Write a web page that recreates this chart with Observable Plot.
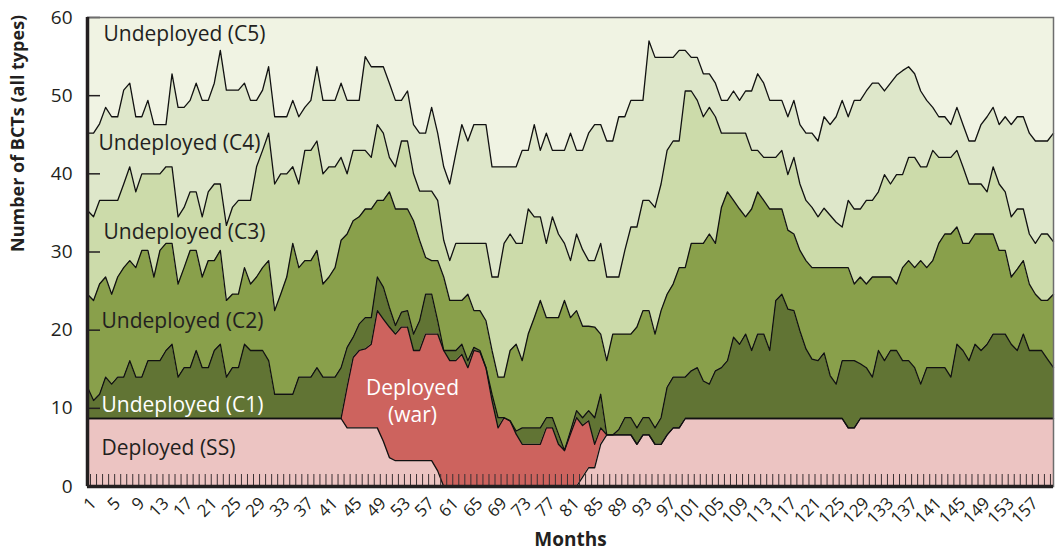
<!DOCTYPE html>
<html><head><meta charset="utf-8">
<script src="https://cdn.jsdelivr.net/npm/d3@7"></script>
<script src="https://cdn.jsdelivr.net/npm/@observablehq/plot@0.6"></script>
<style>body{margin:0;background:#fff;} #chart svg{display:block;}</style>
</head><body><div id="chart"></div>
<script>
// Upper edge of each stacked layer (number of BCTs, cumulative), months 1..161
const topSS = [
8.7,8.7,8.7,8.7,8.7,8.7,8.7,8.7,8.7,8.7,
8.7,8.7,8.7,8.7,8.7,8.7,8.7,8.7,8.7,8.7,
8.7,8.7,8.7,8.7,8.7,8.7,8.7,8.7,8.7,8.7,
8.7,8.7,8.7,8.7,8.7,8.7,8.7,8.7,8.7,8.7,
8.7,8.7,8.7,7.5,7.5,7.5,7.5,7.5,7.5,5.8,
3.7,3.3,3.3,3.3,3.3,3.3,3.3,3.3,2.0,0,
0,0,0,0,0,0,0,0,0,0,
0,0,0,0,0,0,0,0,0,0,
0,0,1.2,2.4,2.4,5.4,6.6,6.6,6.6,6.6,
6.6,5.4,6.6,6.6,5.4,5.4,6.6,7.5,7.5,8.7,
8.7,8.7,8.7,8.7,8.7,8.7,8.7,8.7,8.7,8.7,
8.7,8.7,8.7,8.7,8.7,8.7,8.7,8.7,8.7,8.7,
8.7,8.7,8.7,8.7,8.7,8.7,7.5,7.5,8.7,8.7,
8.7,8.7,8.7,8.7,8.7,8.7,8.7,8.7,8.7,8.7,
8.7,8.7,8.7,8.7,8.7,8.7,8.7,8.7,8.7,8.7,
8.7,8.7,8.7,8.7,8.7,8.7,8.7,8.7,8.7,8.7,
8.7];
const topWar = [
8.7,8.7,8.7,8.7,8.7,8.7,8.7,8.7,8.7,8.7,
8.7,8.7,8.7,8.7,8.7,8.7,8.7,8.7,8.7,8.7,
8.7,8.7,8.7,8.7,8.7,8.7,8.7,8.7,8.7,8.7,
8.7,8.7,8.7,8.7,8.7,8.7,8.7,8.7,8.7,8.7,
8.7,8.7,8.7,12.7,16.5,17.4,17.6,18.2,22.5,21.4,
20.4,19.5,20.4,20.4,17.4,17.4,19.5,19.5,19.5,17.4,
16.1,16.1,16.9,15.2,17.4,17.2,15.2,11.0,7.5,8.8,
8.4,6.7,5.4,5.4,5.4,5.4,7.5,7.5,5.4,4.6,
6.7,8.8,7.8,8.4,5.4,7.5,6.6,6.6,6.6,6.6,
6.6,5.4,6.6,6.6,5.4,5.4,6.6,7.5,7.5,8.7,
8.7,8.7,8.7,8.7,8.7,8.7,8.7,8.7,8.7,8.7,
8.7,8.7,8.7,8.7,8.7,8.7,8.7,8.7,8.7,8.7,
8.7,8.7,8.7,8.7,8.7,8.7,7.5,7.5,8.7,8.7,
8.7,8.7,8.7,8.7,8.7,8.7,8.7,8.7,8.7,8.7,
8.7,8.7,8.7,8.7,8.7,8.7,8.7,8.7,8.7,8.7,
8.7,8.7,8.7,8.7,8.7,8.7,8.7,8.7,8.7,8.7,
8.7];
const topC1 = [
12.7,11.0,11.8,14.0,13.1,14.0,14.0,16.1,14.0,14.0,
16.1,16.1,16.1,17.4,18.2,14.0,15.2,15.2,17.4,15.2,
15.2,17.4,18.2,14.0,15.2,15.2,18.2,17.4,17.4,17.4,
16.1,11.8,11.8,11.8,11.8,14.0,14.0,14.0,15.2,14.0,
14.0,14.0,15.2,17.8,19.1,20.8,21.6,21.6,26.8,25.5,
22.9,20.6,22.3,22.5,19.5,21.2,24.6,24.6,21.2,17.4,
17.4,17.4,18.2,16.1,17.8,17.4,15.2,11.8,8.8,8.8,
8.4,7.1,7.5,7.5,7.5,7.5,8.8,8.8,6.7,4.6,
7.1,9.7,8.8,9.7,8.8,11.8,6.6,6.6,7.3,8.8,
8.8,7.5,8.8,8.8,7.5,8.8,12.7,14.0,14.0,14.0,
14.8,15.2,13.5,13.1,14.8,15.2,16.1,19.1,18.2,19.5,
17.4,19.5,19.5,17.4,23.8,24.6,22.7,22.5,19.9,17.6,
16.3,16.1,17.1,14.2,13.1,16.1,16.1,16.1,15.7,15.2,
14.0,17.4,16.1,17.4,17.4,16.1,16.1,15.2,13.1,15.2,
15.2,15.2,15.2,14.0,18.2,17.4,16.1,18.2,17.4,18.2,
19.5,19.5,19.5,18.2,17.4,19.5,17.4,17.4,17.4,16.3,
15.2];
const topC2 = [
24.6,23.8,25.9,26.8,24.6,26.8,28.0,28.9,28.0,30.2,
30.2,26.8,30.2,31.1,31.1,25.9,28.0,30.2,30.2,26.8,
28.9,28.9,30.2,23.8,24.6,24.6,28.0,25.9,26.8,28.0,
28.9,22.5,24.6,26.8,31.1,28.0,28.9,28.9,30.2,25.9,
26.8,28.0,31.5,32.3,34.0,34.5,35.5,35.5,36.6,36.6,
37.7,35.5,35.5,35.5,34.0,31.5,29.3,28.9,28.9,26.8,
23.8,23.8,23.8,24.6,22.5,22.5,21.2,17.4,14.0,14.0,
17.4,18.2,16.1,19.5,21.6,23.8,21.6,21.6,21.6,23.8,
21.6,22.5,20.5,20.5,20.4,19.5,16.1,19.5,19.5,19.5,
19.5,20.4,22.5,22.5,19.5,22.5,24.6,25.9,28.0,28.0,
31.1,31.1,31.1,32.3,31.1,35.7,37.7,36.6,35.5,34.5,
35.5,37.7,36.6,35.5,35.5,35.5,32.8,32.3,30.2,28.9,
28.0,28.0,28.0,28.0,28.0,28.0,28.0,25.9,26.8,25.9,
26.8,26.8,26.8,26.8,25.9,28.0,28.9,28.0,28.9,28.0,
28.9,31.1,32.3,32.3,33.2,31.1,31.1,32.3,32.3,32.3,
32.3,30.2,30.2,26.8,27.8,28.9,25.9,24.6,23.8,23.8,
24.6];
const topC3 = [
35.3,34.5,36.6,36.6,36.6,36.6,38.7,40.9,37.7,40.0,
40.0,40.0,40.0,40.9,40.9,34.5,35.7,37.7,37.7,34.5,
37.7,38.7,38.7,33.4,35.7,36.6,36.6,36.6,40.9,43.0,
45.2,38.7,40.0,40.0,40.9,38.7,43.0,43.0,44.2,40.0,
40.9,40.9,42.1,40.0,43.0,43.0,43.0,42.1,46.3,45.2,
42.1,40.9,44.2,44.2,40.0,37.8,37.8,37.8,36.6,31.5,
28.9,31.1,31.1,31.1,31.1,31.1,31.1,26.8,26.8,31.1,
32.3,31.1,31.1,35.5,34.5,34.5,31.1,34.5,32.3,31.1,
28.9,32.3,30.3,28.9,28.9,31.1,26.8,26.8,26.8,30.2,
33.2,33.2,36.6,36.6,35.7,38.7,43.0,44.2,44.2,50.6,
50.6,49.4,47.3,48.5,47.3,45.2,45.2,45.2,45.2,45.2,
43.0,43.0,42.1,42.1,42.1,43.0,39.9,42.1,38.7,36.6,
35.7,34.5,35.6,34.7,33.8,33.2,36.6,35.5,35.5,36.6,
36.6,37.7,39.9,38.7,39.9,39.9,42.1,42.1,40.9,40.9,
43.0,42.1,42.1,42.1,43.0,40.9,38.7,38.7,38.7,37.7,
40.9,38.7,37.7,34.5,35.5,35.5,32.3,31.1,32.3,32.3,
31.3];
const topC4 = [
45.2,45.2,46.4,48.5,47.3,47.3,50.7,51.6,47.3,47.3,
49.4,46.3,46.3,46.3,52.8,48.5,48.5,49.4,51.6,49.4,
49.4,51.6,55.8,50.7,50.7,50.7,51.6,49.4,49.4,50.7,
53.7,47.3,47.3,47.3,49.4,47.3,48.5,49.4,53.7,49.4,
49.4,49.4,51.6,49.4,49.4,49.4,55.0,53.7,53.7,53.7,
51.6,49.4,49.4,50.6,46.3,45.2,45.2,48.5,45.2,40.9,
38.7,42.6,46.3,44.2,46.3,46.3,46.3,40.9,40.9,40.9,
40.9,40.9,43.0,43.0,46.3,43.0,45.2,43.0,43.0,43.0,
45.2,43.0,43.0,45.2,46.3,46.3,44.2,44.2,47.3,47.3,
49.4,49.4,49.4,57.0,54.9,54.9,54.9,54.9,55.8,55.8,
54.9,54.9,52.8,52.8,51.6,49.4,49.4,50.6,49.4,50.6,
50.6,52.8,51.6,49.4,49.4,49.4,47.3,49.4,46.3,45.2,
45.2,44.2,47.3,46.3,47.3,49.4,47.3,49.4,49.4,50.6,
51.6,51.6,50.6,51.6,52.6,53.2,53.7,52.8,50.6,49.4,
48.5,47.3,47.3,46.3,48.5,46.3,44.2,44.2,46.3,47.3,
48.5,46.3,47.3,46.3,47.3,47.3,45.2,44.2,44.2,44.2,
45.2];
const months = d3.range(1, 162);
const monthTickLabels = d3.range(1, 158, 4);
const yTicks = [0, 10, 20, 30, 40, 50, 60];

const colors = {
  c5: "#f0f3e3", c4: "#dee7ca", c3: "#ccdbaa", c2: "#89a04b",
  c1: "#617434", war: "#cd635e", ss: "#ecc4c2"
};
const font = "Open Sans";
const ink = "#231f20";

const rows = months.map((m, i) => ({
  m, ss: topSS[i], war: topWar[i], c1: topC1[i], c2: topC2[i], c3: topC3[i], c4: topC4[i]
}));

const W = 1056, H = 553, mL = 87, mR = 3, mT = 17, mB = 67;
const plotW = W - mL - mR, plotH = H - mT - mB;

const layer = (lo, hi, fill) => Plot.areaY(rows, {x: "m", y1: lo, y2: hi, fill, curve: "linear"});
const edge = (k) => Plot.line(rows, {x: "m", y: k, stroke: "#111", strokeWidth: 1.3});
const label = (t, dx, dy, fill, opts = {}) => Plot.text([t], {
  frameAnchor: "top-left", dx, dy, text: d => d, fill, fontFamily: font, fontSize: 21,
  textAnchor: "start", lineAnchor: "middle", ...opts
});

const chart = Plot.plot({
  width: W, height: H,
  marginLeft: mL, marginRight: mR, marginTop: mT, marginBottom: mB,
  x: {domain: [1, 161]},
  y: {domain: [0, 60]},
  style: {fontFamily: font, background: "#fff"},
  marks: [
    Plot.frame({fill: colors.c5}),
    layer(0, "ss", colors.ss),
    layer("ss", "war", colors.war),
    layer("war", "c1", colors.c1),
    layer("c1", "c2", colors.c2),
    layer("c2", "c3", colors.c3),
    layer("c3", "c4", colors.c4),
    edge("ss"), edge("war"), edge("c1"), edge("c2"), edge("c3"), edge("c4"),
    Plot.ruleX(months.slice(0, -1), {x: d => d, dx: 3, insetTop: plotH - 12, stroke: "#3b3133", strokeWidth: 1}),
    Plot.ruleY(yTicks, {y: d => d, insetRight: plotW - 13, stroke: ink, strokeWidth: 1.5}),
    Plot.frame({stroke: "#6d6d6d", strokeWidth: 1.5}),
    Plot.ruleY([0], {stroke: ink, strokeWidth: 3.5}),
    Plot.ruleX([1], {stroke: ink, strokeWidth: 3.5}),
    Plot.axisY({ticks: yTicks, tickSize: 0, tickPadding: 15, fontSize: 19, fontFamily: font, fill: ink, label: null}),
    Plot.axisX({ticks: monthTickLabels, tickSize: 0, tickPadding: 14, tickRotate: -45, fontSize: 17, fontFamily: font, fill: ink, dx: 6, label: null}),
    Plot.text(["Months"], {frameAnchor: "bottom", dy: 59, text: d => d, fontFamily: font, fontSize: 19, fontWeight: "bold", fill: ink}),
    Plot.text(["Number of BCTs (all types)"], {frameAnchor: "left", dx: -69, rotate: -90, text: d => d, fontFamily: font, fontSize: 18, fontWeight: "bold", fill: ink}),
    label("Undeployed (C5)", 16, 16.5, ink),
    label("Undeployed (C4)", 11, 126, ink),
    label("Undeployed (C3)", 16, 215, ink),
    label("Undeployed (C2)", 14, 304, ink),
    label("Undeployed (C1)", 14, 388, "#ffffff"),
    label("Deployed (SS)", 14, 431, ink),
    label("Deployed\n(war)", 325, 382.5, "#ffffff", {textAnchor: "middle", lineHeight: 1.28})
  ]
});
document.getElementById("chart").appendChild(chart);
</script>
</body></html>
